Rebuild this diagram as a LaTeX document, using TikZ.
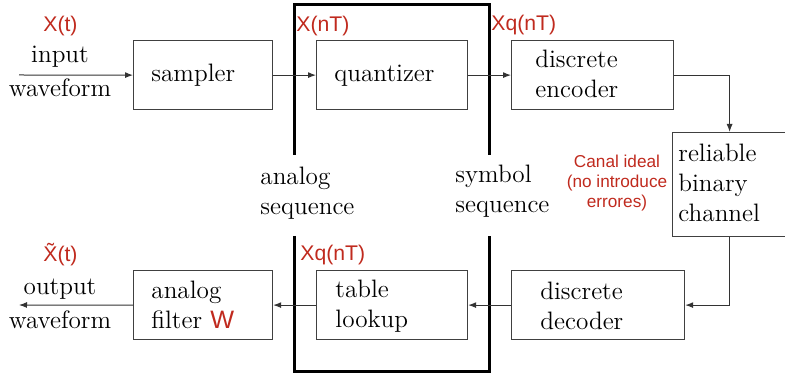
\documentclass[tikz,border=0pt]{standalone}
\usepackage{fontspec}
\newfontfamily\redsans{Liberation Sans}
\usetikzlibrary{arrows.meta}
\definecolor{redlbl}{RGB}{192,42,30}
\tikzset{
  box/.style={draw=black!75, line width=0.6pt, anchor=north west, inner sep=0pt},
  lbl/.style={anchor=base west, inner sep=0pt, align=left, font=\fontsize{12.6pt}{15pt}\selectfont},
  clbl/.style={anchor=base, inner sep=0pt, align=center, font=\fontsize{12.6pt}{17pt}\selectfont},
  rlbl/.style={anchor=base west, inner sep=0pt, text=redlbl, font=\redsans\fontsize{10.6pt}{12pt}\selectfont},
  note/.style={anchor=base, inner sep=0pt, align=center, text=redlbl, font=\redsans\fontsize{8.6pt}{10pt}\selectfont},
  conn/.style={draw=black!80, line width=0.5pt, -{Latex[length=4pt,width=3pt]}},
  wall/.style={draw=black, line width=1.5pt}
}
\begin{document}
\begin{tikzpicture}[x=0.5pt,y=-0.5pt]
\useasboundingbox (0,0) rectangle (785,373);
% boxes
\node[box, minimum width=69.5pt, minimum height=34.5pt] (smp) at (133,40) {};
\node[box, minimum width=75.5pt, minimum height=34.5pt] (qnt) at (316,40) {};
\node[box, minimum width=81pt, minimum height=34.5pt] (enc) at (511,40) {};
\node[box, minimum width=57pt, minimum height=52pt] (chn) at (672,132) {};
\node[box, minimum width=69.5pt, minimum height=34.5pt] (flt) at (133,270) {};
\node[box, minimum width=75.5pt, minimum height=34.5pt] (lkp) at (316,270) {};
\node[box, minimum width=86.5pt, minimum height=34.5pt] (dec) at (511,270) {};
% box texts (anchor = baseline of last line)
\node[lbl] (tsmp) at (151,82) {sampler};
\node[lbl] (tqnt) at (334,82) {quantizer};
\node[lbl] (tenc) at (535,98) {discrete\\encoder};
\node[lbl] (tchn) at (678,222) {reliable\\binary\\channel};
\node[lbl] (tflt) at (151,328) {analog\\filter {\redsans\color{redlbl}W}};
\node[lbl] (tlkp) at (335,327) {table\\lookup};
\node[lbl] (tdec) at (540,329) {discrete\\decoder};
% outside texts
\node[clbl] (tin) at (60,97) {input\\waveform};
\node[clbl] (tout) at (60,328) {output\\waveform};
\node[lbl] (tana) at (260,215) {analog\\sequence};
\node[lbl] (tsym) at (455,213) {symbol\\sequence};
% red labels
\node[rlbl] (rxt) at (43,32) {X(t)};
\node[rlbl] (rxnt) at (296,32) {X(nT)};
\node[rlbl] (rxq1) at (491,31) {Xq(nT)};
\node[rlbl] (rxtt) at (43,262) {\~{X}(t)};
\node[rlbl] (rxq2) at (300,261) {Xq(nT)};
\node[note] (cnl) at (617,208) {Canal ideal\\(no introduce\\errores)};
% walls
\draw[wall] (294,155) -- (294,5) -- (489,5) -- (489,155);
\draw[wall] (294,236) -- (294,371.5) -- (489,371.5) -- (489,236);
% connectors
\coordinate (in) at (19,75);
\coordinate (out) at (19,305);
\draw[conn] (in) -- (smp.west);
\draw[conn] (smp.east) -- (qnt.west);
\draw[conn] (qnt.east) -- (enc.west);
\draw[conn] (enc.east) -| (chn.north);
\draw[conn] (chn.south) |- (dec.east);
\draw[conn] (dec.west) -- (lkp.east);
\draw[conn] (lkp.west) -- (flt.east);
\draw[conn] (flt.west) -- (out);
\end{tikzpicture}
\end{document}
